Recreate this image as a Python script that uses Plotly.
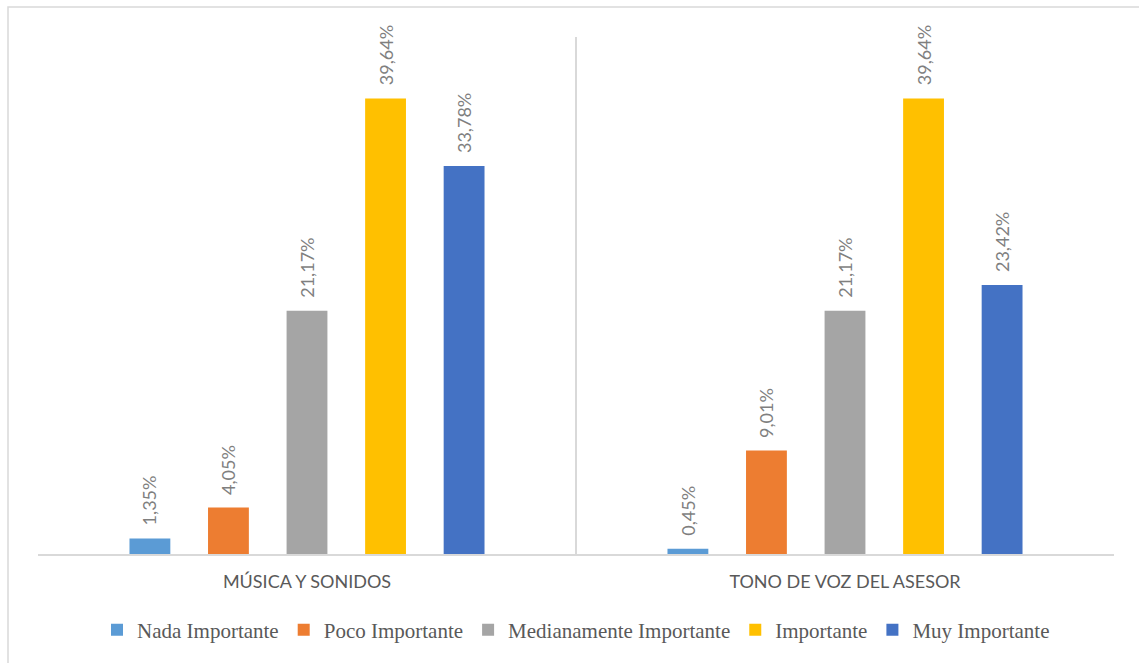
import plotly.graph_objects as go

categories = ["MÚSICA Y SONIDOS", "TONO DE VOZ DEL ASESOR"]
series_names = ["Nada Importante", "Poco Importante", "Medianamente Importante", "Importante", "Muy Importante"]
nada = [1.35, 0.45]
poco = [4.05, 9.01]
mediana = [21.17, 21.17]
importante = [39.64, 39.64]
muy = [33.78, 23.42]
colors = ["#5B9BD5", "#ED7D31", "#A5A5A5", "#FFC000", "#4472C4"]

series_values = [nada, poco, mediana, importante, muy]
bargap = 0.27
bargroupgap = 0.48
n = len(series_values)

fig = go.Figure()
annotations = []
for si, (name, vals, col) in enumerate(zip(series_names, series_values, colors)):
    fig.add_trace(go.Bar(
        x=categories, y=vals, name=name,
        marker=dict(color=col, line=dict(width=0)),
    ))
    for ci, v in enumerate(vals):
        annotations.append(dict(
            x=ci + (si - (n - 1) / 2) * (1 - bargap) / n, y=v,
            xref="x", yref="y",
            text=f"{v:.2f}".replace(".", ",") + "%",
            textangle=-90, showarrow=False,
            yanchor="bottom", xanchor="center", yshift=11,
            font=dict(family="Lato, Open Sans, sans-serif", size=18, color="#7F7F7F"),
        ))

fig.update_layout(
    width=1139, height=663,
    margin=dict(l=38, r=25, t=37, b=107),
    paper_bgcolor="white", plot_bgcolor="white",
    barmode="group", bargap=bargap, bargroupgap=bargroupgap,
    showlegend=True,
    legend=dict(orientation="h", x=0.5, xanchor="center", y=-0.147, yanchor="middle",
                font=dict(family="Liberation Serif", size=21, color="#595959"),
                itemclick=False, itemwidth=30),
    annotations=annotations,
    xaxis=dict(
        type="category", tickson="boundaries", showgrid=True, gridcolor="#D9D9D9", gridwidth=1.5,
        showline=True, linecolor="#D9D9D9", linewidth=2, ticks="",
        tickfont=dict(family="Lato, Open Sans, sans-serif", size=18, color="#595959"),
        ticklabelstandoff=10, range=[-0.5, 1.5],
    ),
    yaxis=dict(range=[0, 45], showgrid=False, showticklabels=False, zeroline=False, ticks=""),
    shapes=[dict(type="rect", xref="paper", yref="paper",
                 x0=-30 / 1076, x1=1.03, y0=-0.25, y1=1 + 30 / 518,
                 line=dict(color="#D9D9D9", width=1.5), fillcolor="rgba(0,0,0,0)", layer="below")],
)

fig.write_html("out.html")
